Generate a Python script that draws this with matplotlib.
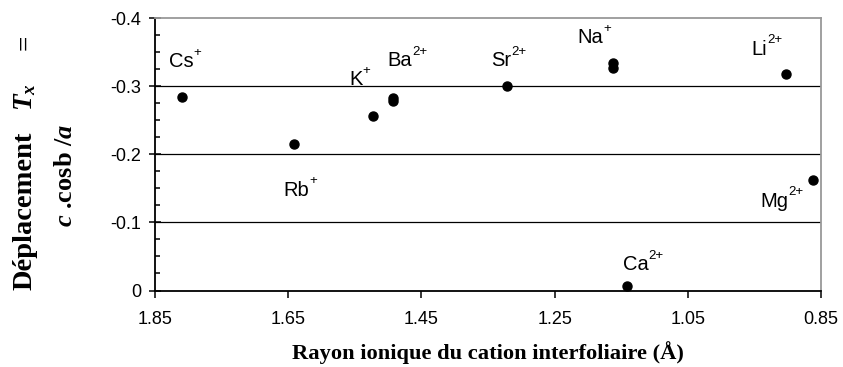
import matplotlib
matplotlib.use("Agg")
import matplotlib.pyplot as plt
from matplotlib.ticker import MultipleLocator, FixedLocator, FuncFormatter

plt.rcParams["font.family"] = "Liberation Sans"
plt.rcParams["axes.unicode_minus"] = False
plt.rcParams["mathtext.fontset"] = "custom"
plt.rcParams["mathtext.rm"] = "Liberation Serif:bold"
plt.rcParams["mathtext.bf"] = "Liberation Serif:bold"
plt.rcParams["mathtext.it"] = "Liberation Serif:italic:bold"

# ionic radius (A) and displacement Tx for each interlayer cation
cations = ["Cs", "Rb", "K", "Ba", "Ba", "Sr", "Na", "Na", "Li", "Mg", "Ca"]
charges = ["+", "+", "+", "2+", "2+", "2+", "+", "+", "2+", "2+", "2+"]
radius = [1.81, 1.642, 1.523, 1.492, 1.492, 1.322, 1.163, 1.163, 0.902, 0.862, 1.141]
tx = [-0.285, -0.215, -0.257, -0.283, -0.279, -0.301, -0.335, -0.327, -0.318, -0.162, -0.007]

# where each name is written, in points from its dot (one label per cation)
label_offsets = {
    "Cs": (-9, 21), "Rb": (-7, -37), "K": (-17, 22), "Ba": (-4, 23),
    "Sr": (-11, 14), "Na": (-25, 14), "Li": (-25, 14), "Mg": (-38, -19),
    "Ca": (-3, 11),
}

W, H = 843, 367
fig = plt.figure(figsize=(W / 100, H / 100), dpi=100)
ax = fig.add_axes([155 / W, 1 - 290.5 / H, 666 / W, 272.2 / H])

ax.plot(radius, tx, "o", color="black", markersize=6.5, linestyle="none", zorder=3)

done = set()
for name, ch, r, t in zip(cations, charges, radius, tx):
    if name in done:
        continue
    done.add(name)
    base = ax.annotate(name, xy=(r, t), xytext=label_offsets[name],
                       textcoords="offset points", ha="left", va="baseline",
                       fontsize=14.5)
    ax.annotate(ch, xy=(1, 1), xycoords=base, xytext=(0, -0.5),
                textcoords="offset points", ha="left", va="center",
                fontsize=9.5)

ax.set_xlim(1.85, 0.85)
ax.set_ylim(0, -0.4)
ax.xaxis.set_major_locator(FixedLocator([1.85, 1.65, 1.45, 1.25, 1.05, 0.85]))
ax.xaxis.set_major_formatter(FuncFormatter(lambda v, p: "%.2f" % v))
ax.yaxis.set_major_locator(MultipleLocator(0.1))
ax.yaxis.set_minor_locator(MultipleLocator(0.025))
ax.yaxis.set_major_formatter(FuncFormatter(lambda v, p: "%g" % round(v, 2)))

for y in [-0.1, -0.2, -0.3]:
    ax.axhline(y, color="black", linewidth=0.9, zorder=1)

for side in ["top", "right"]:
    ax.spines[side].set_color("#999999")
    ax.spines[side].set_linewidth(1.3)
for side in ["left", "bottom"]:
    ax.spines[side].set_linewidth(1.3)

ax.tick_params(axis="y", which="major", direction="inout", length=8, width=1.1,
               labelsize=13, pad=6)
ax.tick_params(axis="y", which="minor", direction="in", length=3.5, width=1.1)
ax.tick_params(axis="x", which="major", direction="out", length=5, width=1.1,
               labelsize=13, pad=10)

ax.set_xlabel("Rayon ionique du cation interfoliaire (Å)", family="Liberation Serif",
              fontweight="bold", fontsize=16.2, labelpad=9)

# y label: two rotated lines, the first one built from three pieces
ylab = dict(rotation=90, rotation_mode="anchor", va="baseline",
            family="Liberation Serif", fontweight="bold")
fig.text(32 / W, 1 - 290 / H, "Déplacement", ha="left", fontsize=20.5, **ylab)
fig.text(32 / W, 1 - 111 / H, r"$T_x$", ha="left", fontsize=19.5, **ylab)
fig.text(32 / W, 1 - 50 / H, "=", ha="left", fontsize=19.5, **ylab)
fig.text(72 / W, 1 - 175 / H, r"$c$ .cosb /$a$", ha="center", fontsize=19, **ylab)

fig.savefig("out.png", dpi=100)
